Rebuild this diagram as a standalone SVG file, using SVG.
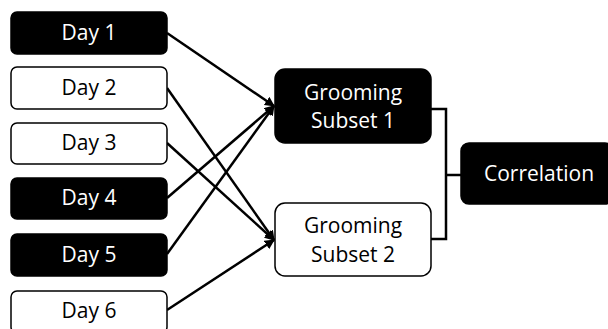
<svg xmlns="http://www.w3.org/2000/svg" width="608" height="329" viewBox="0 0 608 329">
<defs>
<style>
.b{fill:#000;stroke:#000;stroke-width:1.5}
.w{fill:#fff;stroke:#000;stroke-width:1.5}
text{font-family:"Open Sans","Noto Sans",sans-serif;font-size:21px;text-anchor:middle;dominant-baseline:central}
.tb{fill:#fff}
.tw{fill:#000}
.c{stroke:#000;stroke-width:2.5;fill:none}
</style>
<marker id="ah" viewBox="0 0 10 10" refX="9" refY="5" markerWidth="4" markerHeight="4" orient="auto" markerUnits="strokeWidth">
<path d="M0,0 L10,5 L0,10 z" fill="#000"/>
</marker>
</defs>
<rect width="608" height="329" fill="#fff"/>
<g id="connectors">
<line class="c" x1="167" y1="33" x2="274" y2="106" marker-end="url(#ah)"/>
<line class="c" x1="167" y1="88" x2="274" y2="240" marker-end="url(#ah)"/>
<line class="c" x1="167" y1="143" x2="274" y2="240" marker-end="url(#ah)"/>
<line class="c" x1="167" y1="198" x2="274" y2="106" marker-end="url(#ah)"/>
<line class="c" x1="167" y1="254" x2="274" y2="106" marker-end="url(#ah)"/>
<line class="c" x1="167" y1="310" x2="274" y2="240" marker-end="url(#ah)"/>
<path class="c" d="M431,109 H446 V239 H431 M446,175 H461"/>
</g>
<g id="day1"><rect class="b" x="11" y="12" width="156" height="42" rx="6"/><text class="tb" x="89" y="32">Day 1</text></g>
<g id="day2"><rect class="w" x="11" y="67" width="156" height="42" rx="6"/><text class="tw" x="89" y="87">Day 2</text></g>
<g id="day3"><rect class="w" x="11" y="123" width="156" height="41" rx="6"/><text class="tw" x="89" y="142">Day 3</text></g>
<g id="day4"><rect class="b" x="11" y="178" width="156" height="41" rx="6"/><text class="tb" x="89" y="197">Day 4</text></g>
<g id="day5"><rect class="b" x="11" y="234" width="156" height="42" rx="6"/><text class="tb" x="89" y="254">Day 5</text></g>
<g id="day6"><rect class="w" x="11" y="291" width="156" height="42" rx="6"/><text class="tw" x="89" y="310">Day 6</text></g>
<g id="gs1"><rect class="b" x="275" y="69" width="156" height="74" rx="10"/><text class="tb" x="353" y="92">Grooming</text><text class="tb" x="353" y="120">Subset 1</text></g>
<g id="gs2"><rect class="w" x="275" y="203" width="156" height="73" rx="10"/><text class="tw" x="353" y="225">Grooming</text><text class="tw" x="353" y="254">Subset 2</text></g>
<g id="corr"><rect class="b" x="461" y="143" width="152" height="61" rx="8"/><text class="tb" x="539" y="173">Correlation</text></g>
</svg>
